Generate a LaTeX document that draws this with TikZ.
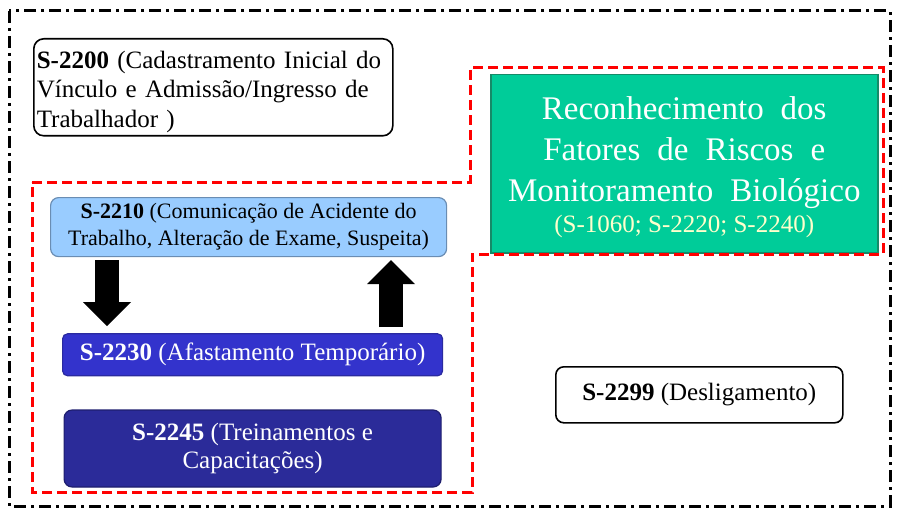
\documentclass[tikz,border=0pt]{standalone}
\usepackage{fontspec}
\setmainfont{Liberation Serif}
\usetikzlibrary{arrows.meta}
\usetikzlibrary{positioning}
\definecolor{acidente}{HTML}{99CCFF}
\definecolor{acidenteborda}{HTML}{6A8DB3}
\definecolor{afastamento}{HTML}{3333CC}
\definecolor{afastamentoborda}{HTML}{2A2AA0}
\definecolor{treinamento}{HTML}{2B2B99}
\definecolor{treinamentoborda}{HTML}{1E1E6E}
\definecolor{fatores}{HTML}{00CC99}
\definecolor{fatoresborda}{HTML}{168A68}
\definecolor{creme}{HTML}{FFFFCC}
\newcommand{\grupocolor}[0]{red}
\newcommand{\eventocolor}[0]{white}
\newcommand{\esp}[0]{\hspace{17pt}}
\tikzset{
    eventobox/.style={rectangle, rounded corners=8pt, line width=1.2pt},
    setaevento/.style={line width=24pt, -{Triangle[length=24pt, width=48pt, line width=0pt]}},
}

\begin{document}
\begin{tikzpicture}[x=1pt, y=-1pt]
    \useasboundingbox (0,0) rectangle (902,516);
    % moldura externa
    \draw[line width=3pt, dash pattern=on 12pt off 5pt on 3pt off 5pt]
        (9,11) rectangle (890,506);
    \node[eventobox, draw=black, fill=\eventocolor, rounded corners=10pt, line width=1.6pt,
        minimum width=359pt, minimum height=96pt, text width=353pt, inner xsep=3pt,
        align=left, anchor=north west, font=\fontsize{25}{29.5}\selectfont]
        (s2200) at (33,38) {\rule{0pt}{26pt}\textbf{S-2200} (Cadastramento Inicial do\\
            Vínculo e Admissão/Ingresso de\\ Trabalhador )};
    \node[eventobox, draw=acidenteborda, fill=acidente, minimum width=396pt, minimum height=59pt,
        align=center, anchor=north west, font=\fontsize{22}{27}\selectfont]
        (s2210) at (50,197) {\textbf{S-2210} (Comunicação de Acidente do\\
            Trabalho, Alteração de Exame, Suspeita)};
    \node[eventobox, draw=afastamentoborda, fill=afastamento, text=white, rounded corners=5pt,
        minimum width=380pt, minimum height=42pt, align=center,
        font=\fontsize{25}{30}\selectfont, below=76pt of s2210, xshift=4pt]
        (s2230) {\textbf{S-2230} (Afastamento Temporário)};
    \node[eventobox, draw=treinamentoborda, fill=treinamento, text=white,
        minimum width=377pt, minimum height=77pt, align=center,
        font=\fontsize{25}{28}\selectfont, below=33pt of s2230]
        (s2245) {\textbf{S-2245} (Treinamentos e\\ Capacitações)};
    \node[rectangle, draw=fatoresborda, fill=fatores, text=white, line width=1.5pt,
        minimum width=387pt, minimum height=178pt, align=center, anchor=north west,
        font=\fontsize{33}{41}\selectfont]
        (fatores) at (490,74) {\rule{0pt}{30.5pt}Reconhecimento\esp dos\\ Fatores\esp de\esp Riscos\esp e\\
            Monitoramento\esp Biológico\\[-10pt]
            {\fontsize{25}{29}\selectfont\color{creme}(S-1060; S-2220; S-2240)}};
    \node[eventobox, draw=black, fill=\eventocolor, line width=1.6pt,
        minimum width=287pt, minimum height=56pt, align=center, anchor=north west,
        font=\fontsize{25}{30}\selectfont]
        (s2299) at (555,366) {\textbf{S-2299} (Desligamento)};
    % setas entre S-2210 e S-2230
    \draw[setaevento] ([xshift=57pt, yshift=-3pt]s2210.south west)
        -- ([xshift=45pt, yshift=7pt]s2230.north west);
    \draw[setaevento] ([xshift=329pt, yshift=6pt]s2230.north west)
        -- ([xshift=341pt, yshift=-3pt]s2210.south west);
    % grupo tracejado vermelho
    \draw[draw=\grupocolor, line width=3pt, dash pattern=on 10pt off 5pt]
        (32,182) -- (470,182) -- (470,68) -- (883,68) -- (883,254)
        -- (472,254) -- (472,492) -- (32,492) -- cycle;
\end{tikzpicture}
\end{document}
